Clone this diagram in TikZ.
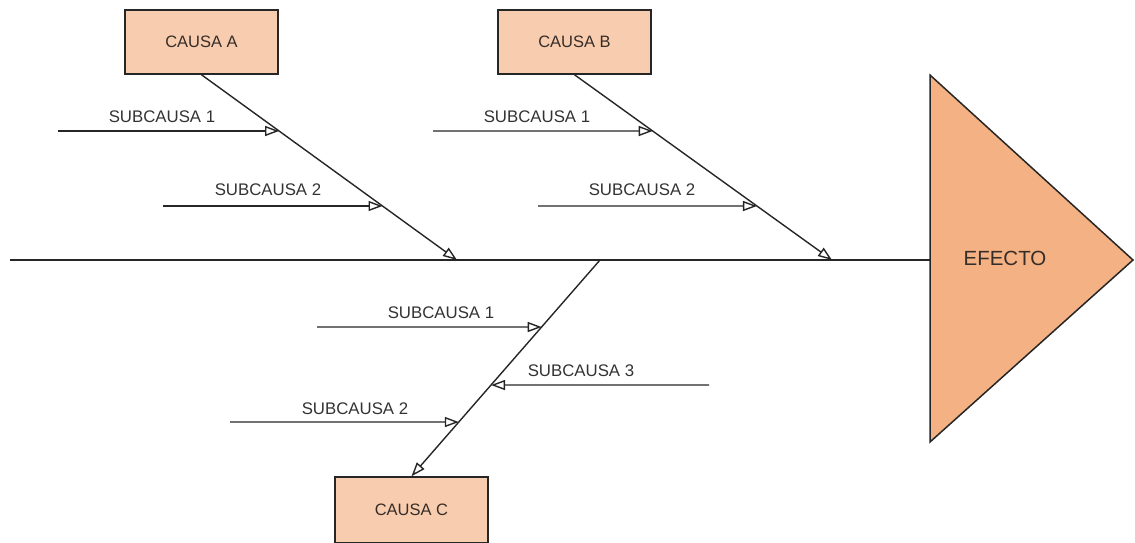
\documentclass[tikz,border=0pt]{standalone}
\usepackage{fontspec}
\setmainfont{Liberation Sans}
\usetikzlibrary{arrows.meta,calc}
\definecolor{boxfill}{RGB}{248,204,174}
\definecolor{trifill}{RGB}{244,178,132}
\definecolor{txt}{RGB}{55,45,40}
\begin{document}
\begin{tikzpicture}[x=1pt,y=-1pt,
  causebox/.style={draw=black!85, line width=1.5pt, fill=boxfill, minimum width=153pt, minimum height=64pt, inner sep=0pt, font=\fontsize{16.5}{19}\selectfont, text=txt},
  bone/.style={line width=1.4pt, draw=black!85, -{Triangle[open,length=14pt,width=10pt,line width=1.4pt]}},
  spine/.style={line width=2pt, draw=black!85},
  lbl/.style={font=\fontsize{16.8}{19}\selectfont, text=black!80, inner sep=0pt}]
\useasboundingbox (0,0) rectangle (1135,542);

% effect triangle
\coordinate (T1) at (930,75);
\coordinate (T2) at (1133,260);
\coordinate (T3) at (930,442);
\draw[line width=1.5pt, draw=black!85, fill=trifill, line join=miter] (T1) -- (T2) -- (T3) -- cycle;
\node[font=\fontsize{20.5}{24}\selectfont, text=txt] (ef) at (1005,258) {EFECTO};

% spine
\coordinate (S0) at (10,260);
\coordinate (S1) at (930,260);
\draw[spine] (S0) -- (S1);

% cause boxes
\node[causebox] (A) at (201.5,42) {CAUSA A};
\node[causebox] (B) at (574.5,42) {CAUSA B};
\node[causebox, minimum height=66pt] (C) at (411.5,510) {CAUSA C};

% main bones
\coordinate (As) at (A.south);
\coordinate (Ae) at (457,260);
\coordinate (Bs) at (B.south);
\coordinate (Be) at (832,260);
\coordinate (Cs) at (600,260);
\coordinate (Ce) at (C.north);
\draw[bone] (As) -- (Ae);
\draw[bone] (Bs) -- (Be);
\draw[bone] (Cs) -- (Ce);

% sub-causes of A
\coordinate (a1) at (intersection of As--Ae and 0,131--1000,131);
\coordinate (a1s) at (58,131);
\draw[bone] (a1s) -- (a1);
\node[lbl] (la1) at (162,117) {SUBCAUSA 1};
\coordinate (a2) at (intersection of As--Ae and 0,206--1000,206);
\coordinate (a2s) at (163,206);
\draw[bone] (a2s) -- (a2);
\node[lbl] (la2) at (268,190) {SUBCAUSA 2};

% sub-causes of B
\coordinate (b1) at (intersection of Bs--Be and 0,131--1000,131);
\coordinate (b1s) at (433,131);
\draw[bone] (b1s) -- (b1);
\node[lbl] (lb1) at (537,117) {SUBCAUSA 1};
\coordinate (b2) at (intersection of Bs--Be and 0,206--1000,206);
\coordinate (b2s) at (538,206);
\draw[bone] (b2s) -- (b2);
\node[lbl] (lb2) at (642,190) {SUBCAUSA 2};

% sub-causes of C
\coordinate (c1) at (intersection of Cs--Ce and 0,327--1000,327);
\coordinate (c1s) at (317,327);
\draw[bone] (c1s) -- (c1);
\node[lbl] (lc1) at (441,313) {SUBCAUSA 1};
\coordinate (c3) at (intersection of Cs--Ce and 0,385--1000,385);
\coordinate (c3s) at (709,385);
\draw[bone] (c3s) -- (c3);
\node[lbl] (lc3) at (581,371) {SUBCAUSA 3};
\coordinate (c2) at (intersection of Cs--Ce and 0,422--1000,422);
\coordinate (c2s) at (230,422);
\draw[bone] (c2s) -- (c2);
\node[lbl] (lc2) at (355,409) {SUBCAUSA 2};
\end{tikzpicture}
\end{document}
